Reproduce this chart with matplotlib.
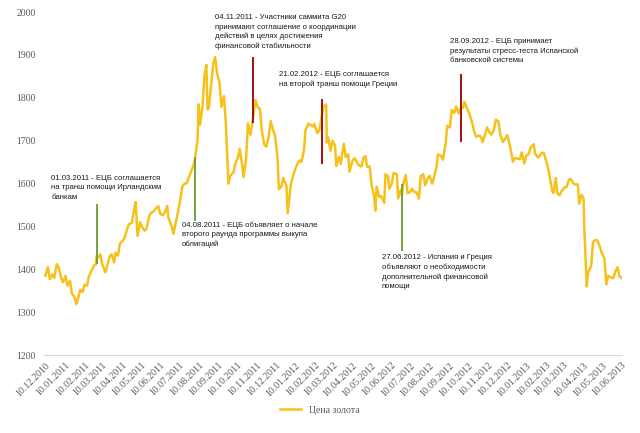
import matplotlib.pyplot as plt
import matplotlib.dates as mdates
import pandas as pd

# цена золота, долл./унц. (~2 точки в неделю)
dates = [
    '2010-12-10', '2010-12-14', '2010-12-17', '2010-12-21', '2010-12-24', '2010-12-28', '2010-12-31',
    '2011-01-04', '2011-01-07', '2011-01-11', '2011-01-14', '2011-01-18', '2011-01-21', '2011-01-25',
    '2011-01-28', '2011-01-31', '2011-02-03', '2011-02-07', '2011-02-10', '2011-02-14', '2011-02-17',
    '2011-02-22', '2011-02-25', '2011-02-28', '2011-03-01', '2011-03-04', '2011-03-07', '2011-03-10',
    '2011-03-15', '2011-03-17', '2011-03-22', '2011-03-25', '2011-03-29', '2011-03-31', '2011-04-04',
    '2011-04-07', '2011-04-11', '2011-04-14', '2011-04-19', '2011-04-21', '2011-04-26', '2011-04-29',
    '2011-05-02', '2011-05-05', '2011-05-09', '2011-05-12', '2011-05-16', '2011-05-19', '2011-05-24',
    '2011-05-27', '2011-05-31', '2011-06-03', '2011-06-07', '2011-06-10', '2011-06-14', '2011-06-17',
    '2011-06-21', '2011-06-23', '2011-06-28', '2011-07-01', '2011-07-05', '2011-07-08', '2011-07-12',
    '2011-07-15', '2011-07-19', '2011-07-22', '2011-07-26', '2011-07-29', '2011-08-02', '2011-08-04',
    '2011-08-08', '2011-08-10', '2011-08-12', '2011-08-16', '2011-08-19', '2011-08-22', '2011-08-24',
    '2011-08-26', '2011-08-30', '2011-09-02', '2011-09-05', '2011-09-08', '2011-09-12', '2011-09-15',
    '2011-09-19', '2011-09-22', '2011-09-26', '2011-09-29', '2011-10-04', '2011-10-07', '2011-10-11',
    '2011-10-14', '2011-10-18', '2011-10-20', '2011-10-24', '2011-10-27', '2011-10-31', '2011-11-04',
    '2011-11-08', '2011-11-11', '2011-11-15', '2011-11-18', '2011-11-22', '2011-11-25', '2011-11-29',
    '2011-12-02', '2011-12-06', '2011-12-09', '2011-12-13', '2011-12-15', '2011-12-19', '2011-12-22',
    '2011-12-27', '2011-12-29', '2012-01-03', '2012-01-06', '2012-01-10', '2012-01-13', '2012-01-17',
    '2012-01-20', '2012-01-24', '2012-01-26', '2012-01-31', '2012-02-03', '2012-02-07', '2012-02-09',
    '2012-02-14', '2012-02-17', '2012-02-21', '2012-02-24', '2012-02-28', '2012-02-29', '2012-03-02',
    '2012-03-06', '2012-03-09', '2012-03-13', '2012-03-15', '2012-03-19', '2012-03-22', '2012-03-27',
    '2012-03-30', '2012-04-03', '2012-04-05', '2012-04-10', '2012-04-13', '2012-04-17', '2012-04-20',
    '2012-04-24', '2012-04-27', '2012-04-30', '2012-05-03', '2012-05-07', '2012-05-10', '2012-05-14',
    '2012-05-16', '2012-05-18', '2012-05-22', '2012-05-25', '2012-05-30', '2012-06-01', '2012-06-05',
    '2012-06-07', '2012-06-11', '2012-06-14', '2012-06-19', '2012-06-21', '2012-06-25', '2012-06-27',
    '2012-06-29', '2012-07-03', '2012-07-06', '2012-07-10', '2012-07-13', '2012-07-17', '2012-07-20',
    '2012-07-24', '2012-07-27', '2012-07-31', '2012-08-03', '2012-08-07', '2012-08-10', '2012-08-14',
    '2012-08-17', '2012-08-21', '2012-08-23', '2012-08-28', '2012-08-31', '2012-09-04', '2012-09-07',
    '2012-09-11', '2012-09-14', '2012-09-18', '2012-09-21', '2012-09-25', '2012-09-28', '2012-10-02',
    '2012-10-04', '2012-10-08', '2012-10-11', '2012-10-16', '2012-10-19', '2012-10-23', '2012-10-26',
    '2012-10-30', '2012-11-02', '2012-11-06', '2012-11-09', '2012-11-13', '2012-11-16', '2012-11-20',
    '2012-11-23', '2012-11-27', '2012-11-30', '2012-12-04', '2012-12-06', '2012-12-11', '2012-12-14',
    '2012-12-18', '2012-12-20', '2012-12-24', '2012-12-28', '2012-12-31', '2013-01-03', '2013-01-07',
    '2013-01-10', '2013-01-14', '2013-01-17', '2013-01-22', '2013-01-24', '2013-01-29', '2013-01-31',
    '2013-02-04', '2013-02-07', '2013-02-12', '2013-02-15', '2013-02-20', '2013-02-22', '2013-02-26',
    '2013-02-28', '2013-03-04', '2013-03-07', '2013-03-12', '2013-03-15', '2013-03-19', '2013-03-22',
    '2013-03-26', '2013-03-28', '2013-04-02', '2013-04-04', '2013-04-08', '2013-04-11', '2013-04-12',
    '2013-04-15', '2013-04-16', '2013-04-18', '2013-04-23', '2013-04-26', '2013-04-30', '2013-05-03',
    '2013-05-07', '2013-05-10', '2013-05-14', '2013-05-17', '2013-05-20', '2013-05-23', '2013-05-28',
    '2013-05-31', '2013-06-04', '2013-06-07', '2013-06-10',
]
prices = [
    1385, 1405, 1377, 1388, 1380, 1412, 1405,
    1380, 1370, 1385, 1362, 1373, 1343, 1336,
    1319, 1333, 1352, 1347, 1364, 1362, 1384,
    1400, 1409, 1411, 1431, 1428, 1435, 1412,
    1393, 1404, 1431, 1435, 1416, 1439, 1432,
    1460, 1466, 1472, 1496, 1505, 1508, 1535,
    1557, 1478, 1510, 1500, 1490, 1494, 1527,
    1532, 1536, 1542, 1547, 1530, 1526, 1532,
    1548, 1520, 1500, 1483, 1512, 1532, 1565,
    1594, 1600, 1601, 1617, 1628, 1644, 1658,
    1700, 1785, 1737, 1780, 1850, 1877, 1773,
    1776, 1834, 1880, 1895, 1858, 1835, 1779,
    1804, 1741, 1600, 1618, 1626, 1647, 1661,
    1681, 1642, 1615, 1656, 1740, 1714, 1754,
    1795, 1779, 1774, 1722, 1691, 1686, 1710,
    1746, 1724, 1712, 1659, 1587, 1593, 1613,
    1595, 1531, 1598, 1616, 1634, 1645, 1654,
    1651, 1680, 1724, 1740, 1737, 1733, 1739,
    1718, 1724, 1758, 1781, 1784, 1696, 1708,
    1677, 1700, 1689, 1641, 1662, 1646, 1693,
    1662, 1668, 1628, 1654, 1659, 1649, 1642,
    1640, 1660, 1664, 1639, 1640, 1596, 1571,
    1537, 1593, 1569, 1571, 1555, 1622, 1617,
    1588, 1600, 1625, 1622, 1565, 1585, 1574,
    1598, 1620, 1578, 1580, 1588, 1580, 1580,
    1565, 1618, 1622, 1596, 1612, 1618, 1600,
    1615, 1639, 1668, 1665, 1656, 1690, 1735,
    1731, 1772, 1765, 1780, 1764, 1776, 1777,
    1791, 1776, 1767, 1744, 1724, 1709, 1712,
    1710, 1697, 1715, 1731, 1719, 1714, 1726,
    1749, 1745, 1714, 1697, 1701, 1713, 1696,
    1668, 1651, 1660, 1658, 1657, 1673, 1647,
    1665, 1669, 1684, 1692, 1670, 1661, 1664,
    1672, 1671, 1646, 1627, 1584, 1578, 1613,
    1578, 1573, 1582, 1591, 1592, 1610, 1610,
    1600, 1598, 1598, 1553, 1574, 1565, 1501,
    1395, 1360, 1392, 1408, 1464, 1469, 1467,
    1452, 1438, 1425, 1365, 1385, 1382, 1379,
    1394, 1405, 1383, 1380,
]

# события: дата, низ и верх отметки, цвет, текст
event_dates = ['2011-03-01', '2011-08-04', '2011-11-04', '2012-02-21', '2012-06-27', '2012-09-28']
event_low = [1415, 1515, 1743, 1648, 1445, 1700]
event_high = [1549, 1660, 1893, 1795, 1596, 1853]
event_colors = ['#77A03D', '#77A03D', '#A01010', '#A01010', '#77A03D', '#A01010']
event_texts = [
    '01.03.2011 - ЕЦБ соглашается\nна транш помощи Ирландским\nбанкам',
    '04.08.2011 - ЕЦБ объявляет о начале\nвторого раунда программы выкупа\nоблигаций',
    '04.11.2011 - Участники саммита G20\nпринимают соглашение о координации\nдействий в целях достижения\nфинансовой стабильности',
    '21.02.2012 - ЕЦБ соглашается\nна второй транш помощи Греции',
    '27.06.2012 - Испания и Греция\nобъявляют о необходимости\nдополнительной финансовой\nпомощи',
    '28.09.2012 - ЕЦБ принимает\nрезультаты стресс-теста Испанской\nбанковской системы',
]
# позиция текста (дата левого края, верх текста)
text_x = ['2010-12-19', '2011-07-14', '2011-09-04', '2011-12-16', '2012-05-26', '2012-09-12']
text_y = [1620, 1512, 1995, 1862, 1435, 1940]

x = pd.to_datetime(dates)

plt.rcParams['font.family'] = ['Liberation Serif', 'DejaVu Serif']

fig = plt.figure(figsize=(6.4, 4.33), dpi=100)
ax = fig.add_axes([0.069, 0.18, 0.903, 0.792])

ax.plot(x, prices, color='#F5C11A', lw=1.8, label='Цена золота', zorder=2)

for d, lo, hi, c, t, tx, ty in zip(event_dates, event_low, event_high, event_colors,
                                   event_texts, text_x, text_y):
    ax.plot([pd.Timestamp(d)] * 2, [lo, hi], color=c, lw=1.4, zorder=3)
    ax.text(pd.Timestamp(tx), ty, t, fontsize=5.6, color='#1a1a1a', va='top', ha='left',
            family=['Liberation Sans', 'DejaVu Sans'], linespacing=1.45)

ax.set_ylim(1200, 2000)
ax.set_yticks(range(1200, 2001, 100))
ax.set_xlim(pd.Timestamp('2010-12-08'), pd.Timestamp('2013-06-11'))
ticks = pd.date_range('2010-12-01', '2013-06-01', freq='MS') + pd.Timedelta(days=9)
ax.set_xticks(ticks)
ax.xaxis.set_major_formatter(mdates.DateFormatter('%d.%m.%Y'))
plt.setp(ax.get_xticklabels(), rotation=45, ha='right', rotation_mode='anchor')
ax.tick_params(axis='both', length=0, labelsize=7, colors='#595959')
ax.tick_params(axis='x', pad=4)
ax.tick_params(axis='y', pad=6)

for s in ['top', 'right', 'left']:
    ax.spines[s].set_visible(False)
ax.spines['bottom'].set_color('#d9d9d9')

fig.legend(loc='center', bbox_to_anchor=(0.5, 0.053), frameon=False, fontsize=7,
           handlelength=2.2, labelcolor='#595959')

fig.savefig('out.png', dpi=100)
